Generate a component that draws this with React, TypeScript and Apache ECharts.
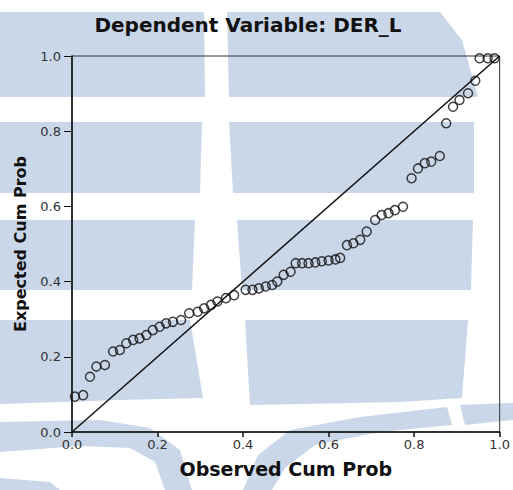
import { useEffect, useRef } from 'react';
import * as echarts from 'echarts';

const observedCumProb = [
  0.007, 0.026, 0.042, 0.057, 0.077, 0.096, 0.112, 0.127, 0.143, 0.158,
  0.174, 0.189, 0.205, 0.220, 0.236, 0.255, 0.274, 0.294, 0.309, 0.325,
  0.340, 0.360, 0.379, 0.406, 0.422, 0.437, 0.453, 0.468, 0.480, 0.495,
  0.511, 0.523, 0.538, 0.553, 0.569, 0.584, 0.600, 0.616, 0.627, 0.643,
  0.658, 0.674, 0.689, 0.709, 0.724, 0.740, 0.755, 0.774, 0.794, 0.809,
  0.825, 0.840, 0.860, 0.875, 0.891, 0.906, 0.926, 0.943, 0.953, 0.972,
  0.988,
];
const expectedCumProb = [
  0.094, 0.098, 0.147, 0.174, 0.178, 0.214, 0.218, 0.236, 0.245, 0.249,
  0.258, 0.271, 0.280, 0.289, 0.293, 0.298, 0.316, 0.320, 0.329, 0.338,
  0.347, 0.356, 0.364, 0.378, 0.378, 0.382, 0.387, 0.391, 0.400, 0.418,
  0.426, 0.449, 0.449, 0.449, 0.451, 0.454, 0.456, 0.459, 0.463, 0.497,
  0.502, 0.511, 0.533, 0.564, 0.577, 0.582, 0.590, 0.599, 0.675, 0.701,
  0.715, 0.719, 0.734, 0.821, 0.865, 0.883, 0.901, 0.934, 0.994, 0.994,
  0.994,
];
const diagonalLine = [
  [0, 0],
  [1, 1],
];
const axisMin = 0;
const axisMax = 1;
const axisStep = 0.2;

const titleText = 'Dependent Variable: DER_L';
const xName = 'Observed Cum Prob';
const yName = 'Expected Cum Prob';

const WM = '#cad7e8';

function wmPoly(points: number[][]) {
  return {
    type: 'polygon',
    z: -10,
    silent: true,
    shape: { points },
    style: { fill: WM },
  };
}

export default function App() {
  const ref = useRef<HTMLDivElement>(null);
  useEffect(() => {
    const chart = echarts.init(ref.current!, null, { renderer: 'svg' });
    const points = observedCumProb.map((x, i) => [x, expectedCumProb[i]]);
    chart.setOption({
      animation: false,
      backgroundColor: '#ffffff',
      title: {
        text: titleText,
        left: 243,
        top: 10,
        textAlign: 'center',
        textStyle: {
          fontFamily: 'DejaVu Sans',
          fontWeight: 'bold',
          fontSize: 20,
          color: '#111111',
        },
      },
      graphic: [
        wmPoly([[0, 12], [204, 12], [205, 97], [0, 97]]),
        wmPoly([[227, 12], [440, 12], [462, 40], [478, 97], [229, 97]]),
        wmPoly([[0, 122], [202, 122], [200, 193], [0, 193]]),
        wmPoly([[229, 122], [474, 122], [474, 193], [233, 193]]),
        wmPoly([[0, 220], [195, 220], [192, 290], [0, 290]]),
        wmPoly([[237, 220], [473, 220], [471, 290], [242, 290]]),
        wmPoly([[0, 320], [190, 320], [203, 398], [120, 400], [0, 404]]),
        wmPoly([[245, 320], [468, 320], [462, 398], [400, 402], [250, 405]]),
        wmPoly([[0, 422], [100, 420], [150, 428], [180, 450], [192, 490], [165, 490], [155, 462], [130, 448], [80, 446], [0, 452]]),
        wmPoly([[243, 490], [258, 455], [290, 430], [360, 417], [447, 407], [452, 425], [380, 432], [315, 445], [285, 468], [272, 490]]),
        wmPoly([[0, 478], [50, 482], [60, 490], [0, 490]]),
        wmPoly([[460, 405], [513, 403], [513, 420], [465, 425]]),
      ],
      grid: {
        left: 72,
        right: 11,
        top: 56,
        bottom: 58,
        show: true,
        backgroundColor: 'transparent',
        borderColor: '#333333',
        borderWidth: 1,
      },
      xAxis: {
        type: 'value',
        min: axisMin,
        max: axisMax,
        interval: axisStep,
        name: xName,
        nameLocation: 'middle',
        nameGap: 27,
        nameTextStyle: {
          fontFamily: 'DejaVu Sans',
          fontWeight: 'bold',
          fontSize: 19,
          color: '#111111',
        },
        axisLine: { show: true, onZero: false, lineStyle: { color: '#111', width: 1.5 } },
        axisTick: { show: true, inside: false, length: 5, lineStyle: { color: '#111', width: 1.5 } },
        axisLabel: {
          margin: 6,
          fontFamily: 'DejaVu Sans',
          fontSize: 13,
          color: '#333',
          formatter: (v: number) => v.toFixed(1),
        },
        splitLine: { show: false },
      },
      yAxis: {
        type: 'value',
        min: axisMin,
        max: axisMax,
        interval: axisStep,
        name: yName,
        nameLocation: 'middle',
        nameGap: 44,
        nameTextStyle: {
          fontFamily: 'DejaVu Sans',
          fontWeight: 'bold',
          fontSize: 16,
          color: '#111111',
        },
        axisLine: { show: true, onZero: false, lineStyle: { color: '#111', width: 1.5 } },
        axisTick: { show: true, inside: false, length: 8, lineStyle: { color: '#111', width: 1 } },
        axisLabel: {
          margin: 11,
          fontFamily: 'DejaVu Sans',
          fontSize: 13,
          color: '#333',
          formatter: (v: number) => v.toFixed(1),
        },
        splitLine: { show: false },
      },
      series: [
        {
          type: 'line',
          data: diagonalLine,
          symbol: 'none',
          lineStyle: { color: '#111', width: 1.5 },
          z: 3,
        },
        {
          type: 'scatter',
          data: points,
          symbol: 'circle',
          symbolSize: 9,
          itemStyle: { color: 'rgba(0,0,0,0)', borderColor: '#111', borderWidth: 1.5 },
          z: 4,
        },
      ],
    });
    return () => chart.dispose();
  }, []);
  return (
    <div
      ref={ref}
      style={{ position: 'absolute', left: 0, top: 0, width: 513, height: 490, background: '#fff' }}
    />
  );
}
